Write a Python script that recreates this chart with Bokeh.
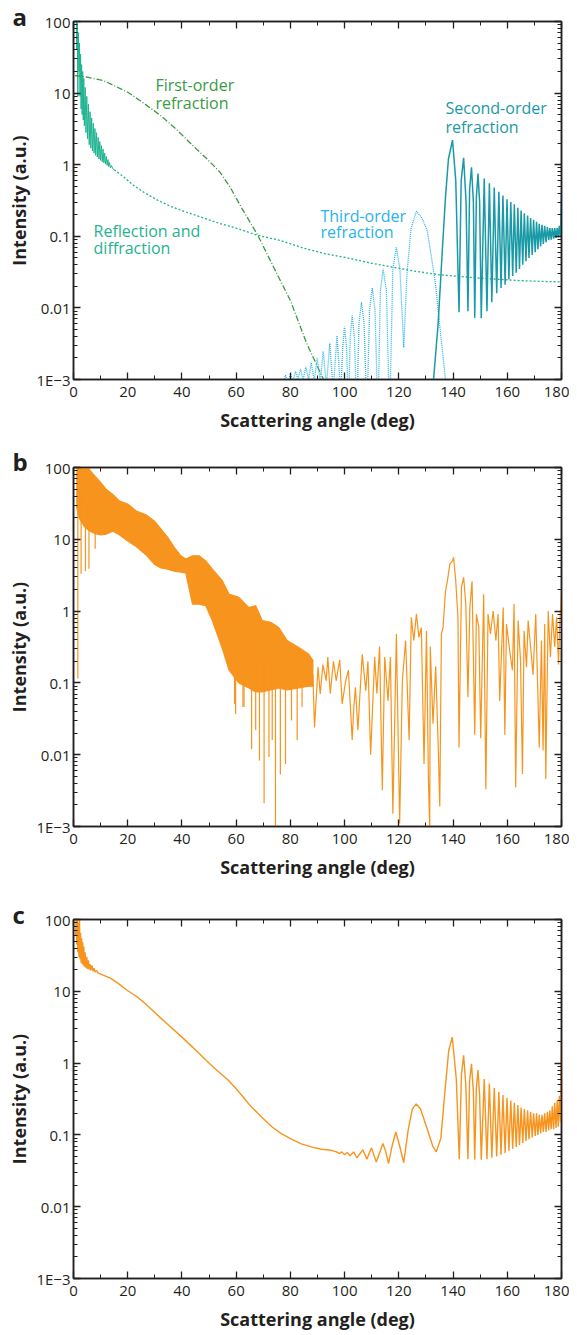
from bokeh.plotting import figure
from bokeh.layouts import column
from bokeh.models import Range1d, FixedTicker, LinearAxis, LogAxis, Label, Title
from bokeh.embed import file_html
from bokeh.resources import INLINE

# ---------------- data ----------------
x_tick_vals = [0, 20, 40, 60, 80, 100, 120, 140, 160, 180]
x_tick_labels = ["0", "20", "40", "60", "80", "100", "120", "140", "160", "180"]
x_minor_vals = [10, 30, 50, 70, 90, 110, 130, 150, 170]
y_tick_vals = [0.001, 0.01, 0.1, 1, 10, 100]
y_tick_labels = ["1E\u22123", "0.01", "0.1", "1", "10", "100"]
y_minor_vals = [m * d for d in [0.001, 0.01, 0.1, 1, 10] for m in range(2, 10)]

# Panel a: reflection & diffraction (forward oscillating part, solid)
refl_osc = [(1.0, 120), (1.2, 40), (1.4, 95), (1.6, 9), (1.8, 70), (2.0, 20), (2.2, 50), (2.4, 9),
            (2.6, 35), (2.8, 6), (3.0, 25), (3.2, 5), (3.4, 20), (3.6, 4.2), (3.8, 16), (4.0, 3.5),
            (4.3, 12), (4.6, 2.8), (4.9, 9), (5.2, 2.3), (5.5, 7), (5.8, 1.9), (6.1, 5.5), (6.4, 1.7),
            (6.7, 4.5), (7.0, 1.55), (7.3, 3.8), (7.6, 1.45), (7.9, 3.2), (8.2, 1.35), (8.5, 2.8),
            (8.8, 1.28), (9.1, 2.4), (9.4, 1.2), (9.7, 2.1), (10.0, 1.15), (10.3, 1.85), (10.6, 1.1),
            (10.9, 1.65), (11.2, 1.06), (11.5, 1.45), (11.8, 1.02), (12.1, 1.3), (12.4, 0.98),
            (12.7, 1.18), (13.0, 0.94), (13.3, 1.07), (13.6, 0.9), (14.0, 0.97), (14.5, 0.88), (15.0, 0.85)]
# Panel a: reflection & diffraction (smooth part, dotted)
refl_x = [15, 18, 22, 26, 31, 36, 42, 48, 53, 60, 68, 76, 85, 93, 101, 110, 118, 125, 135, 150, 165, 180]
refl_y = [0.85, 0.7, 0.52, 0.41, 0.32, 0.26, 0.215, 0.18, 0.155, 0.13, 0.103, 0.088, 0.068, 0.057,
          0.05, 0.042, 0.037, 0.033, 0.029, 0.026, 0.024, 0.023]
# Panel a: first-order refraction (dash-dot)
first_x = [0.5, 4, 11, 20, 26, 32, 38, 44, 49, 54, 58, 62, 68, 72.7, 80, 86, 92.5]
first_y = [17.5, 17, 15, 10.3, 7.2, 4.9, 3.1, 1.85, 1.23, 0.79, 0.47, 0.25, 0.103, 0.045, 0.0127,
           0.0032, 0.00095]
# Panel a: third-order refraction (dotted)
third = [(76.5, 0.0007), (77.3, 0.0009), (78.2, 0.00115), (79.1, 0.0009), (80.0, 0.0012), (81.0, 0.00095),
         (81.9, 0.0013), (82.8, 0.001), (83.7, 0.0014), (84.7, 0.001), (85.7, 0.0015), (86.7, 0.001),
         (87.7, 0.0017), (88.8, 0.00095), (89.9, 0.002), (91.0, 0.0009), (92.1, 0.0025), (93.3, 0.0008),
         (94.5, 0.0032), (95.8, 0.0007), (97.2, 0.0041), (98.6, 0.0006),
         (99.3, 0.0028), (100.0, 0.0055), (100.7, 0.0028), (101.4, 0.0004),
         (102.1, 0.004), (102.8, 0.0078), (103.6, 0.004), (104.5, 0.0003),
         (105.3, 0.006), (106.2, 0.012), (107.2, 0.006), (108.2, 0.0003),
         (109.2, 0.0095), (110.2, 0.019), (111.2, 0.0095), (112.3, 0.0003),
         (113.2, 0.0175), (114.2, 0.035), (115.4, 0.0175), (116.6, 0.0003),
         (117.8, 0.035), (119.1, 0.07), (120.4, 0.035), (121.8, 0.0028),
         (123.0, 0.03), (124.5, 0.13), (126.5, 0.224), (128.5, 0.18), (130.5, 0.12),
         (133.5, 0.022), (135.4, 0.0044), (137.2, 0.001), (138.5, 0.0004)]
# Panel a: second-order refraction (solid)
second = [(132.8, 0.001), (134.5, 0.006), (136.0, 0.06), (137.2, 0.35), (138.3, 1.2), (139.8, 2.2),
          (141.0, 0.6), (142.2, 0.0087), (143.0, 0.6), (143.9, 1.25), (144.8, 0.3), (145.5, 0.009),
          (146.1, 0.45), (146.8, 0.92), (147.5, 0.3), (148.0, 0.0072), (148.6, 0.35), (149.2, 0.75),
          (149.8, 0.3), (150.4, 0.0072), (151.5, 0.64), (152.5, 0.009), (153.4, 0.55), (154.3, 0.012),
          (155.2, 0.48), (156.1, 0.016), (156.9, 0.42), (157.7, 0.019), (158.4, 0.37), (159.2, 0.021),
          (159.9, 0.33), (160.6, 0.025), (161.3, 0.30), (162.0, 0.028), (162.6, 0.28), (163.3, 0.031),
          (163.9, 0.25), (164.5, 0.035), (165.1, 0.23), (165.7, 0.04), (166.3, 0.21), (166.9, 0.045),
          (167.5, 0.195), (168.0, 0.05), (168.6, 0.18), (169.2, 0.055), (169.7, 0.17), (170.3, 0.06),
          (170.8, 0.16), (171.3, 0.066), (171.8, 0.15), (172.3, 0.072), (172.8, 0.145), (173.3, 0.078),
          (173.8, 0.14), (174.3, 0.083), (174.8, 0.135), (175.3, 0.088), (175.7, 0.13), (176.2, 0.09),
          (176.6, 0.13), (177.1, 0.093), (177.5, 0.13), (178.0, 0.095), (178.4, 0.13), (178.8, 0.097),
          (179.2, 0.14), (179.6, 0.1), (180.0, 0.4)]

# Panel b: dense forward band (upper / lower envelope)
b_env_x = [1.0, 2.0, 4.0, 6.0, 8.0, 10, 12, 14.5, 17, 20, 23, 26.7, 29.8, 32.2, 34.7, 37.1, 39.6,
           41.4, 43.9, 46.3, 48.8, 51.2, 54.9, 57.4, 61, 64.7, 67.2, 69.6, 72.7, 75.7, 78.8, 83.1,
           86.8, 88.5]
b_env_hi = [150, 150, 150, 92, 75, 62, 50, 42, 34, 31, 25, 22, 18, 14, 10.7, 7.8, 5.9, 5.3, 5.9,
            5.9, 5.0, 3.85, 2.65, 1.72, 1.55, 1.12, 1.19, 0.74, 0.70, 0.59, 0.39, 0.31, 0.25, 0.2]
b_env_lo = [30, 20, 15, 13, 12, 11.5, 11.8, 13, 11.5, 9.5, 8, 6.1, 4.5, 4.0, 3.85, 3.6, 3.5, 3.4,
            1.25, 1.25, 1.19, 0.74, 0.3, 0.15, 0.1, 0.085, 0.075, 0.075, 0.08, 0.085, 0.08, 0.085,
            0.09, 0.09]
# Panel b: deep dips in the forward band (angle, bottom, top)
b_dip_x = [1.6, 2.8, 4.4, 5.7, 8.0, 59.4, 59.8, 62.5, 62.9, 65.7, 67.2, 68.6, 70.3, 72.1, 73.3,
           74.5, 76.3, 78.2, 80.4, 82.5, 84.3]
b_dip_lo = [0.115, 3.3, 3.6, 3.9, 7.4, 0.051, 0.037, 0.046, 0.046, 0.012, 0.022, 0.0083, 0.0021,
            0.0093, 0.016, 0.0009, 0.0053, 0.0074, 0.03, 0.016, 0.046]
b_dip_hi = [60, 40, 30, 30, 20, 0.5, 0.5, 0.4, 0.4, 0.3, 0.3, 0.3, 0.2, 0.2, 0.2, 0.2, 0.15, 0.15,
            0.15, 0.15, 0.15]
# Panel b: backward region
b_back = [(88.3, 0.133), (88.9, 0.024), (90.2, 0.166), (91.0, 0.07), (92.0, 0.18), (93.2, 0.107),
          (93.8, 0.23), (94.7, 0.071), (95.9, 0.2), (96.9, 0.107), (98.2, 0.21), (99.1, 0.051),
          (100.4, 0.107), (101.4, 0.15), (102.8, 0.016), (103.4, 0.046), (104.0, 0.087), (104.9, 0.022),
          (106.5, 0.25), (107.8, 0.078), (108.6, 0.2), (109.6, 0.01), (111.1, 0.23), (111.9, 0.071),
          (112.9, 0.32), (113.9, 0.0032), (114.8, 0.23), (116.0, 0.056), (116.9, 0.23), (117.8, 0.0015),
          (119.1, 0.48), (120.3, 0.0011), (121.3, 0.107), (122.5, 0.39), (123.8, 0.016), (124.6, 0.82),
          (125.5, 0.39), (126.5, 0.91), (127.4, 0.43), (128.3, 0.59), (129.3, 0.0074), (130.2, 0.53),
          (130.9, 0.0049), (131.4, 0.0009), (131.6, 0.32), (132.6, 0.027), (133.6, 0.17), (134.5, 0.014),
          (135.1, 0.0019), (135.7, 0.48), (136.3, 0.59), (137.2, 1.9), (137.9, 2.6), (138.8, 4.5),
          (139.8, 5.0), (140.2, 5.6), (141.0, 2.6), (141.8, 0.82), (142.2, 0.0126), (143.1, 2.15),
          (143.9, 2.95), (144.7, 1.26), (145.5, 0.063), (146.2, 1.12), (147.0, 2.6), (148.0, 0.019),
          (148.6, 0.91), (149.5, 0.59), (150.2, 0.017), (151.3, 1.72), (152.1, 0.0033), (152.9, 0.91),
          (153.8, 0.48), (154.8, 1.0), (155.8, 0.39), (156.6, 0.91), (157.2, 0.056), (158.5, 1.12),
          (159.1, 0.019), (159.7, 0.66), (160.9, 0.28), (161.9, 0.15), (162.5, 1.26), (163.1, 0.0035),
          (164.0, 0.74), (164.9, 0.2), (165.6, 0.0054), (166.2, 0.53), (167.1, 0.165), (167.7, 0.74),
          (168.6, 0.32), (169.5, 0.13), (170.5, 0.91), (171.8, 0.0125), (172.6, 0.39), (173.2, 0.0114),
          (173.8, 0.66), (174.2, 0.0046), (175.1, 1.0), (175.9, 0.23), (176.7, 0.91), (177.5, 0.32),
          (178.2, 0.82), (178.9, 0.18), (179.4, 0.74), (180.0, 1.72)]

# Panel c
c_curve = [(0.8, 60), (1.0, 110), (1.2, 45), (1.4, 100), (1.6, 35), (1.8, 90), (2.0, 30), (2.2, 110),
           (2.4, 28), (2.6, 65), (2.8, 25), (3.0, 55), (3.2, 24), (3.4, 48), (3.6, 23), (3.8, 42),
           (4.0, 22), (4.3, 35), (4.6, 21), (4.9, 30), (5.2, 20.5), (5.5, 27), (5.8, 20), (6.1, 24),
           (6.4, 19.5), (6.8, 23), (7.2, 19), (7.6, 21), (8.0, 18.5), (8.5, 19.5), (9.0, 18),
           (13.8, 15.1), (16.5, 12.9), (19.5, 10.5), (23, 8.6), (26, 7.0), (29, 5.5), (32, 4.3),
           (35, 3.4), (40, 2.3), (46, 1.4), (49, 1.09), (52, 0.85), (57, 0.58), (60, 0.44),
           (62.5, 0.34), (65, 0.26), (68, 0.2), (71, 0.155), (73.4, 0.128), (76.5, 0.105),
           (80.2, 0.088), (84, 0.075), (88.3, 0.067), (91.5, 0.063),
           (95.1, 0.061), (97, 0.058), (98, 0.055), (99, 0.058), (100, 0.053), (101, 0.057),
           (102, 0.051), (103.3, 0.058), (104.5, 0.048), (106.7, 0.062), (108.2, 0.046),
           (109.9, 0.066), (111.7, 0.042), (113.2, 0.06), (114.1, 0.076), (115.1, 0.06), (116.2, 0.04),
           (117.5, 0.07), (118.9, 0.11), (120.3, 0.07), (121.8, 0.041), (123.5, 0.12), (125, 0.23),
           (126.4, 0.27), (128, 0.23), (130.5, 0.12), (132.5, 0.07), (133.8, 0.058), (135.5, 0.09),
           (137, 0.4), (138.4, 1.5), (139.7, 2.3), (141.2, 0.6), (142.3, 0.046), (143.1, 0.7),
           (143.9, 1.28), (144.7, 0.5), (145.5, 0.046), (146.1, 0.55), (146.8, 0.98), (147.5, 0.4),
           (148.0, 0.045), (148.6, 0.45), (149.2, 0.8), (149.8, 0.35), (150.4, 0.045), (151.5, 0.6),
           (152.5, 0.046), (153.4, 0.52), (154.3, 0.048), (155.2, 0.45), (156.1, 0.05), (156.9, 0.4),
           (157.7, 0.053), (158.4, 0.36), (159.2, 0.056), (159.9, 0.33), (160.6, 0.06), (161.3, 0.3),
           (162.0, 0.064), (162.6, 0.28), (163.3, 0.068), (163.9, 0.26), (164.5, 0.072), (165.1, 0.24),
           (165.7, 0.077), (166.3, 0.23), (166.9, 0.082), (167.5, 0.22), (168.0, 0.087), (168.6, 0.21),
           (169.2, 0.092), (169.7, 0.2), (170.3, 0.097), (170.8, 0.2), (171.3, 0.1), (171.8, 0.19),
           (172.3, 0.105), (172.8, 0.19), (173.3, 0.11), (173.8, 0.2), (174.3, 0.11), (174.8, 0.21),
           (175.3, 0.115), (175.7, 0.22), (176.2, 0.12), (176.6, 0.25), (177.1, 0.12), (177.5, 0.28),
           (178.0, 0.125), (178.4, 0.3), (178.8, 0.13), (179.2, 0.35), (179.6, 0.15), (180.0, 2.0)]

panel_letters = ["a", "b", "c"]
a_annotations = [("First-order", "refraction"), ("Reflection and", "diffraction"),
                 ("Third-order", "refraction"), ("Second-order", "refraction")]

# ---------------- style ----------------
DARK = "#231f20"
FONT = "Open Sans"
REFL = "#1fb38f"
FIRST = "#3a9b44"
THIRD = "#2ab3e6"
SECOND = "#1a9aa6"
ORANGE = "#f7941d"


def split(pairs):
    return [a for a, _ in pairs], [b for _, b in pairs]


def style_axis(ax, labels=True):
    ax.axis_line_color = DARK
    ax.axis_line_width = 1.5
    ax.major_tick_line_color = DARK
    ax.major_tick_line_width = 1.3
    ax.minor_tick_line_color = DARK
    ax.minor_tick_line_width = 1.0
    ax.major_tick_in = 7
    ax.major_tick_out = 0
    ax.minor_tick_in = 4
    ax.minor_tick_out = 0
    ax.major_label_text_font = FONT
    ax.axis_label_text_font = FONT
    ax.axis_label_text_font_style = "bold"
    ax.axis_label_text_color = DARK
    ax.axis_label_text_font_size = "18px"
    if labels:
        ax.major_label_text_font_size = "15px"
        ax.major_label_text_color = DARK
    else:
        ax.major_label_text_font_size = "1px"
        ax.major_label_text_color = None
        ax.major_label_standoff = 0


def make_fig(height, btop, bbottom, letter, letter_standoff):
    p = figure(width=569, height=height, y_axis_type="log",
               x_range=Range1d(0, 180), y_range=Range1d(0.001, 100),
               output_backend="svg", toolbar_location=None,
               min_border_left=73, min_border_right=8,
               min_border_top=btop, min_border_bottom=bbottom)
    p.grid.visible = False
    p.outline_line_color = DARK
    p.outline_line_width = 1.5
    xt = FixedTicker(ticks=x_tick_vals, minor_ticks=x_minor_vals)
    yt = FixedTicker(ticks=y_tick_vals, minor_ticks=y_minor_vals)
    p.xaxis.ticker = xt
    p.yaxis.ticker = yt
    p.xaxis.major_label_overrides = dict(zip(x_tick_vals, x_tick_labels))
    p.yaxis.major_label_overrides = dict(zip(y_tick_vals, y_tick_labels))
    p.xaxis.axis_label = "Scattering angle (deg)"
    p.yaxis.axis_label = "Intensity (a.u.)"
    for ax in p.xaxis:
        style_axis(ax)
        ax.major_label_standoff = 7
        ax.axis_label_standoff = 8
    for ax in p.yaxis:
        style_axis(ax)
        ax.major_label_standoff = 3
        ax.axis_label_standoff = 2
    top = LinearAxis(ticker=xt)
    style_axis(top, labels=False)
    p.add_layout(top, "above")
    right = LogAxis(ticker=yt)
    style_axis(right, labels=False)
    p.add_layout(right, "right")
    p.add_layout(Title(text=letter, align="left", offset=-61, standoff=letter_standoff,
                       text_font=FONT, text_font_style="bold", text_font_size="24px",
                       text_color=DARK), "above")
    return p


def note(p, t, x, y, color):
    p.add_layout(Label(x=x, y=y, text=t, text_font=FONT, text_font_size="16px",
                       text_color=color, text_baseline="middle", text_align="left"))


# ---------------- panel a ----------------
pa = make_fig(440, 21, 61, panel_letters[0], -22)
ox, oy = split(refl_osc)
pa.line(ox, oy, line_color=REFL, line_width=1.0)
pa.line(refl_x, refl_y, line_color=REFL, line_width=1.3, line_dash="2 2")
pa.line(first_x, first_y, line_color=FIRST, line_width=1.3, line_dash="6 2 1 2")
tx, ty = split(third)
pa.line(tx, ty, line_color=THIRD, line_width=1.3, line_dash="1 1")
sx, sy = split(second)
pa.line(sx, sy, line_color=SECOND, line_width=1.5)
note(pa, a_annotations[0][0], 30.2, 12.8, FIRST)
note(pa, a_annotations[0][1], 30.2, 7.2, FIRST)
note(pa, a_annotations[1][0], 7.4, 0.12, REFL)
note(pa, a_annotations[1][1], 7.4, 0.068, REFL)
note(pa, a_annotations[2][0], 91.1, 0.195, THIRD)
note(pa, a_annotations[2][1], 91.1, 0.113, THIRD)
note(pa, a_annotations[3][0], 137.2, 6.1, SECOND)
note(pa, a_annotations[3][1], 137.2, 3.4, SECOND)

# ---------------- panel b ----------------
pb = make_fig(450, 27, 64, panel_letters[1], -20)
pb.varea(x=b_env_x, y1=b_env_lo, y2=b_env_hi, fill_color=ORANGE)
pb.line(b_env_x, b_env_hi, line_color=ORANGE, line_width=1.2)
pb.line(b_env_x, b_env_lo, line_color=ORANGE, line_width=1.2)
pb.segment(x0=b_dip_x, y0=b_dip_lo, x1=b_dip_x, y1=b_dip_hi, line_color=ORANGE, line_width=1.2)
bx, by = split(b_back)
pb.line(bx, by, line_color=ORANGE, line_width=1.2)

# ---------------- panel c ----------------
pc = make_fig(445, 29, 57, panel_letters[2], -22)
cx, cy = split(c_curve)
pc.line(cx, cy, line_color=ORANGE, line_width=1.4)

layout = column(pa, pb, pc, spacing=0)
open("out.html", "w").write(file_html(layout, INLINE))
